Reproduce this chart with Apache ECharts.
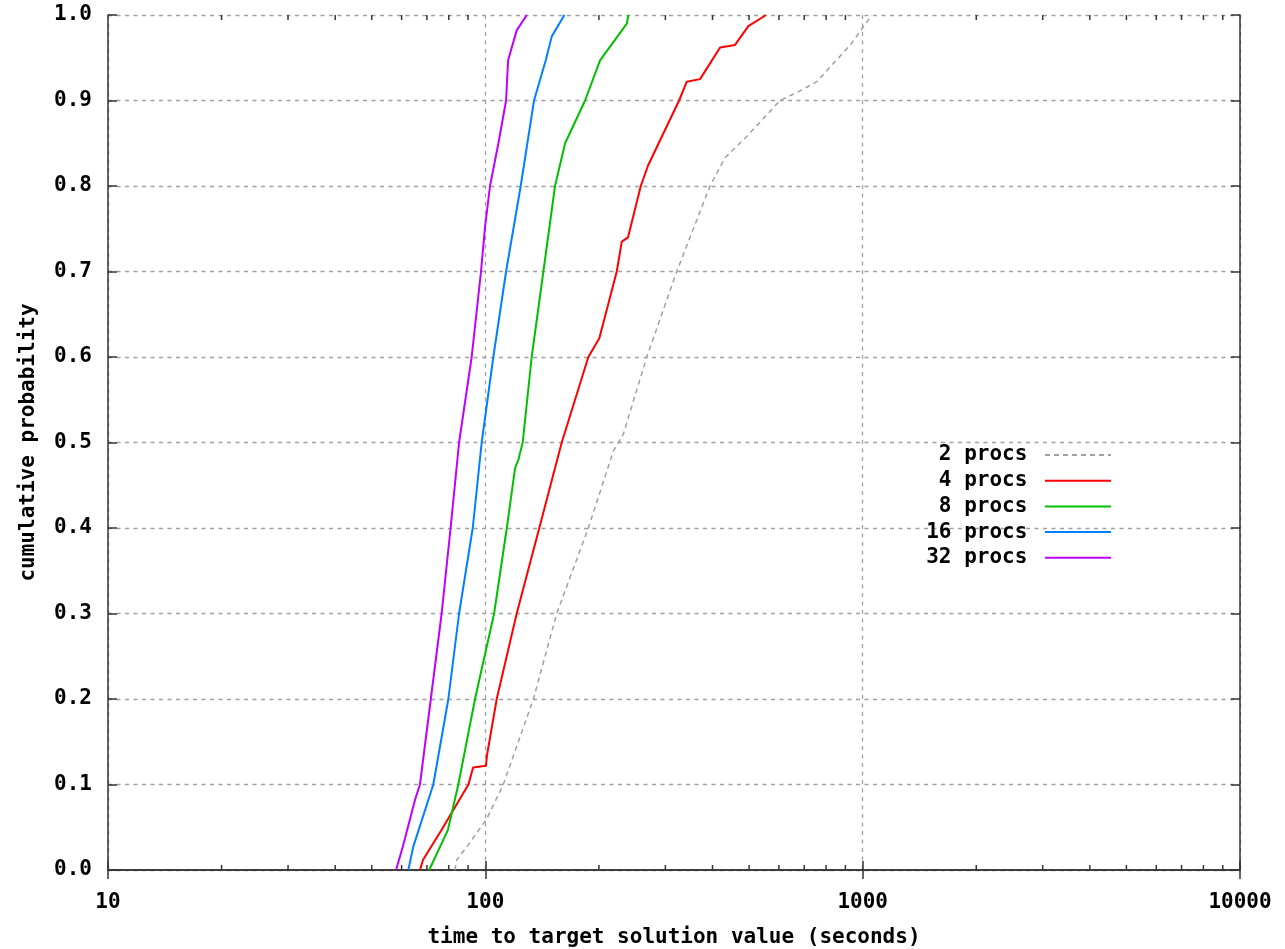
<!DOCTYPE html>
<html>
<head>
<meta charset="utf-8">
<title>Time to target: cumulative probability</title>
<script src="https://cdn.jsdelivr.net/npm/echarts@6/dist/echarts.min.js"></script>
<style>
  html, body { margin: 0; padding: 0; background: #fff; }
  #chart { width: 1285px; height: 949px; }
</style>
</head>
<body>
<div id="chart"></div>
<script>
// Empirical distributions of time to target: [seconds, cumulative probability]
const procs2 = [
  [83.1, 0.0], [84.0, 0.012], [89.3, 0.027], [100.9, 0.06], [111.6, 0.1],
  [134.1, 0.2], [154.6, 0.3], [187.5, 0.4], [218.4, 0.49], [232.2, 0.51],
  [267.8, 0.6], [321.6, 0.7], [393.9, 0.8], [431.8, 0.833], [493.0, 0.858],
  [604.1, 0.9], [674.3, 0.91], [755.6, 0.922], [931.7, 0.966], [1057, 1.0]
];
const procs4 = [
  [67.1, 0.0], [68.4, 0.012], [76.6, 0.047], [90.2, 0.1], [92.8, 0.12],
  [100.4, 0.122], [101.0, 0.134], [107.2, 0.2], [121.1, 0.3], [139.0, 0.4],
  [159.4, 0.5], [187.5, 0.6], [200.5, 0.622], [223.0, 0.7], [229.9, 0.735],
  [238.9, 0.74], [258.2, 0.8], [269.9, 0.824], [326.2, 0.9], [341.9, 0.922],
  [370.7, 0.925], [419.0, 0.962], [459.0, 0.965], [497.8, 0.987], [554.6, 1.0]
];
const procs8 = [
  [71.0, 0.0], [79.6, 0.047], [84.8, 0.1], [93.9, 0.2], [105.5, 0.3],
  [114.0, 0.4], [119.9, 0.47], [122.4, 0.48], [125.6, 0.5], [132.7, 0.6],
  [142.5, 0.7], [153.0, 0.8], [162.7, 0.85], [183.8, 0.9], [201.4, 0.947],
  [237.1, 0.99], [239.3, 1.0]
];
const procs16 = [
  [62.5, 0.0], [64.4, 0.027], [72.8, 0.1], [79.8, 0.2], [85.2, 0.3],
  [92.6, 0.4], [97.8, 0.5], [105.0, 0.6], [113.5, 0.7], [124.1, 0.8],
  [134.6, 0.9], [144.6, 0.947], [150.0, 0.975], [162.0, 1.0]
];
const procs32 = [
  [58.0, 0.0], [60.4, 0.027], [65.1, 0.082], [67.1, 0.1], [71.7, 0.2],
  [76.6, 0.3], [80.9, 0.4], [85.2, 0.5], [92.0, 0.6], [97.4, 0.7],
  [99.8, 0.752], [102.9, 0.8], [108.3, 0.85], [113.5, 0.9], [114.9, 0.947],
  [121.1, 0.982], [128.8, 1.0]
];

const seriesNames = ['2 procs', '4 procs', '8 procs', '16 procs', '32 procs'];
const seriesData = [procs2, procs4, procs8, procs16, procs32];
const seriesColors = ['#a0a0a0', '#ff0000', '#00c000', '#0080ff', '#c000ff'];

// Minor tick positions on the logarithmic time axis
const minorTicks = [20, 30, 40, 50, 60, 70, 80, 90,
  200, 300, 400, 500, 600, 700, 800, 900,
  2000, 3000, 4000, 5000, 6000, 7000, 8000, 9000];

const FONT = 'DejaVu Sans Mono';
const INK = '#000';
const FRAME = '#333';

const chart = echarts.init(document.getElementById('chart'), null, { renderer: 'canvas' });

const lineSeries = seriesNames.map((name, i) => ({
  name: name,
  type: 'line',
  data: seriesData[i],
  symbol: 'none',
  showSymbol: false,
  xAxisIndex: 0,
  yAxisIndex: 0,
  lineStyle: {
    color: seriesColors[i],
    width: i === 0 ? 1.5 : 2,
    type: i === 0 ? [5, 4] : 'solid'
  },
  itemStyle: { color: seriesColors[i] },
  emphasis: { disabled: true },
  silent: true,
  z: 3
}));

const minorTickSeries = {
  type: 'custom',
  name: 'minor',
  xAxisIndex: 0,
  yAxisIndex: 0,
  data: minorTicks.map(v => [v, 0]),
  encode: { x: 0, y: 1 },
  silent: true,
  z: 4,
  renderItem: function (params, api) {
    const v = api.value(0);
    const b = api.coord([v, 0]);
    const t = api.coord([v, 1]);
    const st = { stroke: FRAME, lineWidth: 1.5 };
    return {
      type: 'group',
      children: [
        { type: 'line', shape: { x1: b[0], y1: b[1], x2: b[0], y2: b[1] - 5 }, style: st },
        { type: 'line', shape: { x1: t[0], y1: t[1], x2: t[0], y2: t[1] + 5 }, style: st }
      ]
    };
  }
};

const axisFont = { fontFamily: FONT, fontWeight: 'bold', fontSize: 21, color: INK };
const gridLine = { show: true, lineStyle: { color: '#a0a0a0', width: 1.3, type: [4, 4.5] } };

const option = {
  animation: false,
  backgroundColor: '#fff',
  grid: {
    left: 108, right: 45, top: 15, bottom: 79,
    containLabel: false,
    outerBoundsMode: 'none'
  },
  legend: {
    data: seriesNames,
    orient: 'vertical',
    right: 173,
    top: 444.5,
    padding: 0,
    align: 'right',
    itemWidth: 66,
    itemHeight: 14,
    itemGap: 4.7,
    selectedMode: false,
    itemStyle: { opacity: 0 },
    formatter: name => name + ' ',
    textStyle: axisFont
  },
  xAxis: [
    {
      type: 'log',
      logBase: 10,
      min: 10,
      max: 10000,
      position: 'bottom',
      name: 'time to target solution value (seconds)',
      nameLocation: 'middle',
      nameGap: 57,
      nameTextStyle: axisFont,
      axisLine: { show: true, lineStyle: { color: FRAME, width: 1.5 } },
      axisTick: { show: true, inside: true, length: 9, lineStyle: { color: FRAME, width: 1.5 } },
      axisLabel: Object.assign({ margin: 22, formatter: v => String(Math.round(v)) }, axisFont),
      splitLine: gridLine,
      minorTick: { show: false },
      minorSplitLine: { show: false }
    },
    {
      type: 'log',
      logBase: 10,
      min: 10,
      max: 10000,
      position: 'top',
      axisLine: { show: true, lineStyle: { color: FRAME, width: 1.5 } },
      axisTick: { show: true, inside: true, length: 9, lineStyle: { color: FRAME, width: 1.5 } },
      axisLabel: { show: false },
      splitLine: { show: false }
    }
  ],
  yAxis: [
    {
      type: 'value',
      min: 0,
      max: 1,
      interval: 0.1,
      position: 'left',
      name: 'cumulative probability',
      nameLocation: 'middle',
      nameGap: 69,
      nameRotate: 90,
      nameTextStyle: axisFont,
      axisLine: { show: true, lineStyle: { color: FRAME, width: 1.5 } },
      axisTick: { show: true, inside: true, length: 9, lineStyle: { color: FRAME, width: 1.5 } },
      axisLabel: Object.assign({ margin: 16, formatter: v => v.toFixed(1) }, axisFont),
      splitLine: gridLine
    },
    {
      type: 'value',
      min: 0,
      max: 1,
      interval: 0.1,
      position: 'right',
      axisLine: { show: true, lineStyle: { color: FRAME, width: 1.5 } },
      axisTick: { show: true, inside: true, length: 9, lineStyle: { color: FRAME, width: 1.5 } },
      axisLabel: { show: false },
      splitLine: { show: false }
    }
  ],
  series: lineSeries.concat([minorTickSeries])
};

chart.setOption(option);
</script>
</body>
</html>
